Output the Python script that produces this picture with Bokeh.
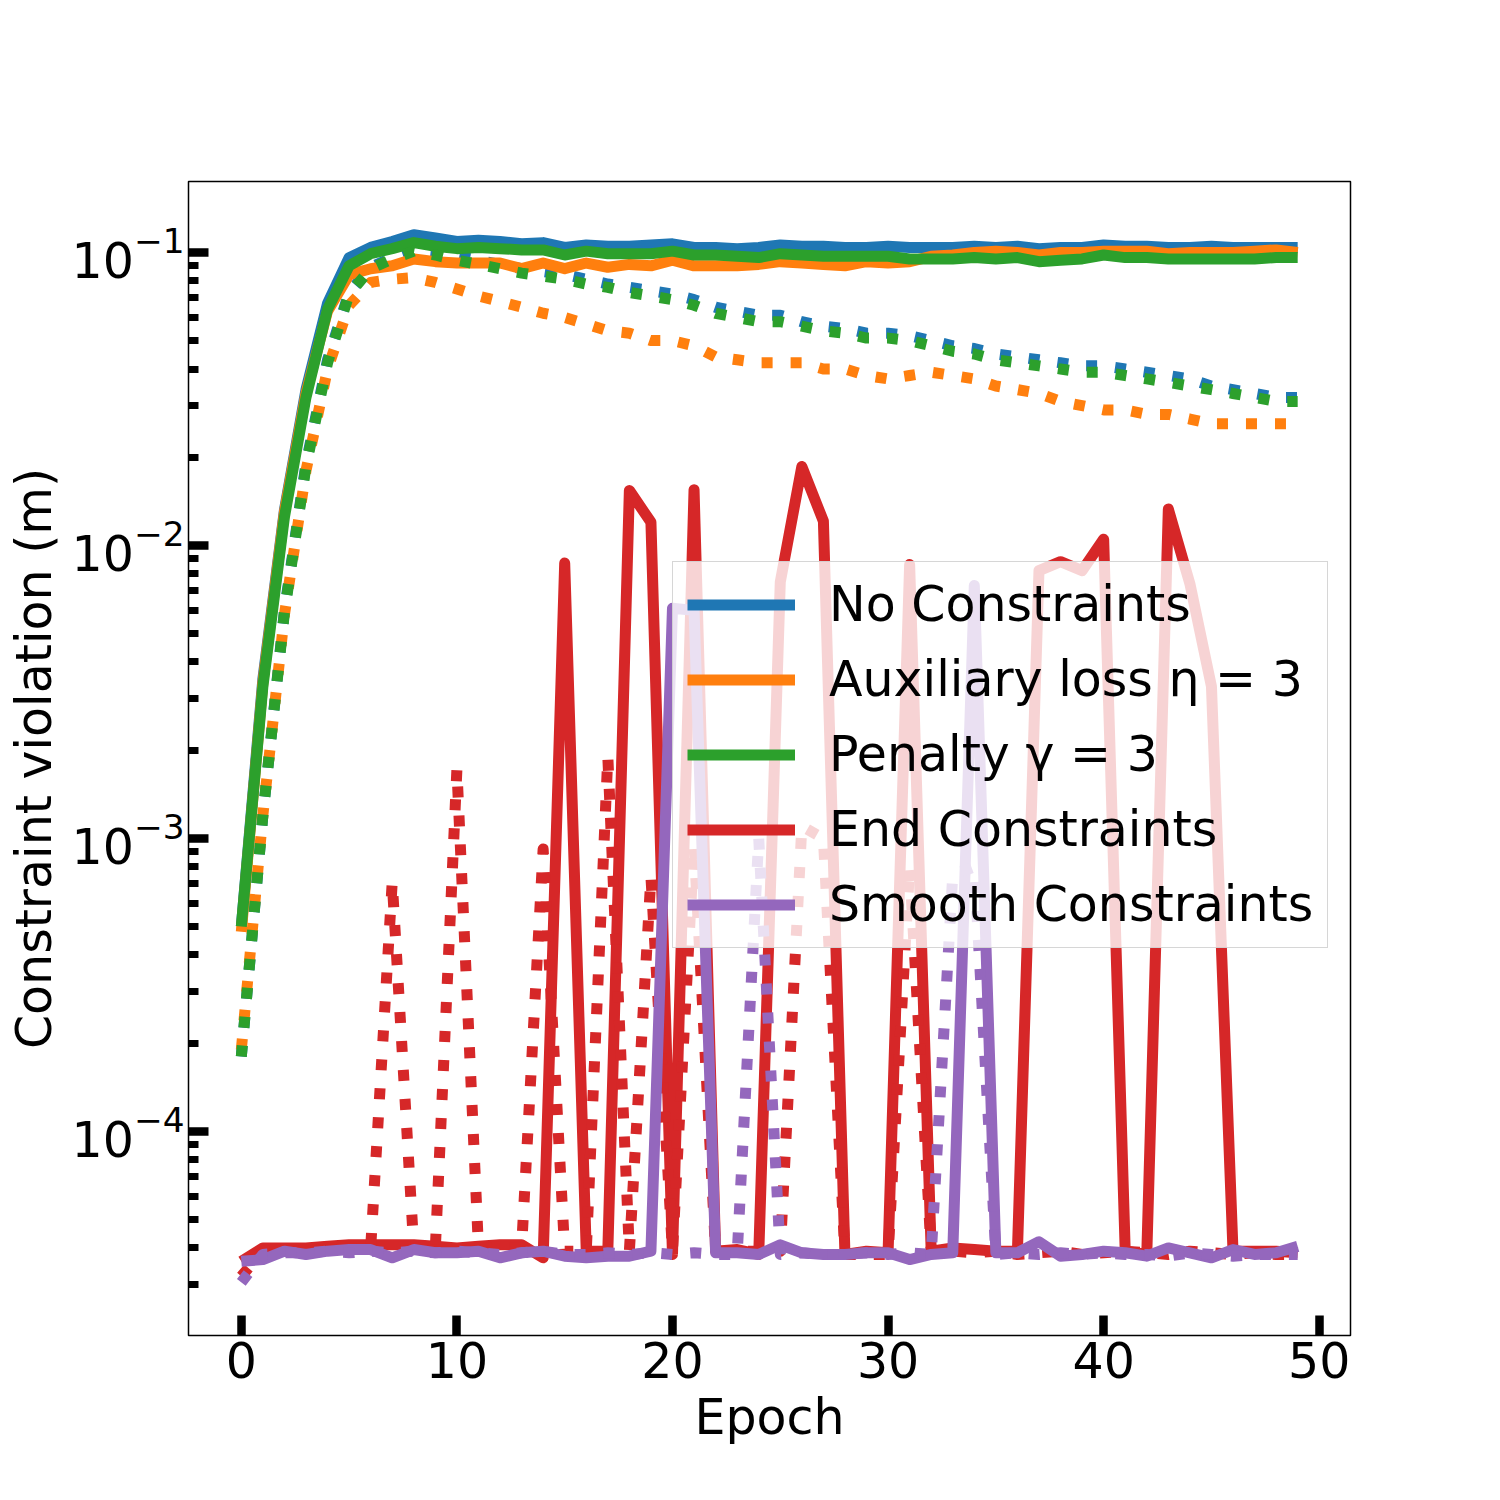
from bokeh.plotting import figure
from bokeh.embed import file_html
from bokeh.resources import INLINE
from bokeh.models import FixedTicker, Range1d, LogTicker

epochs = list(range(50))

no_constraints = [5.0e-4, 3.5e-3, 1.32e-2, 3.4e-2, 6.7e-2, 0.096, 0.104, 0.109, 0.115, 0.112,
                  0.109, 0.110, 0.109, 0.107, 0.108, 0.104, 0.106, 0.105, 0.105, 0.106,
                  0.107, 0.104, 0.104, 0.103, 0.104, 0.106, 0.105, 0.105, 0.104, 0.104,
                  0.105, 0.104, 0.104, 0.104, 0.105, 0.104, 0.105, 0.103, 0.104, 0.104,
                  0.106, 0.105, 0.105, 0.104, 0.104, 0.105, 0.104, 0.104, 0.104, 0.104]
no_constraints_val = [1.8e-4, 1.2e-3, 6.0e-3, 0.019, 0.043, 0.073, 0.089, 0.096, 0.102, 0.100,
                      0.097, 0.094, 0.091, 0.088, 0.086, 0.084, 0.081, 0.078, 0.076, 0.074,
                      0.072, 0.069, 0.065, 0.063, 0.061, 0.061, 0.058, 0.056, 0.055, 0.053,
                      0.053, 0.052, 0.050, 0.048, 0.047, 0.045, 0.044, 0.043, 0.042, 0.041,
                      0.041, 0.040, 0.039, 0.038, 0.037, 0.035, 0.034, 0.033, 0.032, 0.032]

auxiliary = [4.8e-4, 3.4e-3, 1.3e-2, 3.3e-2, 6.3e-2, 0.084, 0.088, 0.090, 0.095, 0.093,
             0.092, 0.092, 0.092, 0.088, 0.092, 0.088, 0.092, 0.089, 0.091, 0.090,
             0.094, 0.090, 0.090, 0.090, 0.091, 0.093, 0.092, 0.091, 0.090, 0.093,
             0.092, 0.093, 0.097, 0.098, 0.100, 0.101, 0.100, 0.098, 0.100, 0.100,
             0.101, 0.101, 0.101, 0.099, 0.100, 0.100, 0.100, 0.101, 0.102, 0.100]
auxiliary_val = [1.9e-4, 1.2e-3, 5.8e-3, 0.018, 0.040, 0.066, 0.079, 0.081, 0.082, 0.079,
                 0.075, 0.071, 0.068, 0.065, 0.062, 0.060, 0.057, 0.054, 0.053, 0.050,
                 0.050, 0.048, 0.044, 0.043, 0.042, 0.042, 0.042, 0.040, 0.040, 0.038,
                 0.037, 0.038, 0.039, 0.038, 0.037, 0.035, 0.034, 0.033, 0.031, 0.030,
                 0.029, 0.029, 0.028, 0.028, 0.027, 0.026, 0.026, 0.026, 0.026, 0.026]

penalty = [5.0e-4, 3.3e-3, 1.25e-2, 3.2e-2, 6.4e-2, 0.090, 0.099, 0.103, 0.108, 0.105,
           0.103, 0.104, 0.103, 0.102, 0.102, 0.098, 0.101, 0.099, 0.099, 0.099,
           0.101, 0.098, 0.098, 0.097, 0.096, 0.099, 0.098, 0.097, 0.097, 0.097,
           0.097, 0.095, 0.095, 0.095, 0.096, 0.095, 0.096, 0.093, 0.094, 0.095,
           0.098, 0.096, 0.096, 0.095, 0.095, 0.095, 0.095, 0.095, 0.096, 0.096]
penalty_val = [1.8e-4, 1.2e-3, 5.9e-3, 0.0186, 0.042, 0.072, 0.088, 0.095, 0.101, 0.098,
               0.094, 0.091, 0.088, 0.085, 0.083, 0.081, 0.078, 0.076, 0.073, 0.071,
               0.069, 0.066, 0.062, 0.060, 0.058, 0.058, 0.056, 0.054, 0.053, 0.051,
               0.051, 0.050, 0.048, 0.046, 0.045, 0.043, 0.042, 0.041, 0.040, 0.039,
               0.039, 0.038, 0.037, 0.036, 0.035, 0.034, 0.033, 0.032, 0.031, 0.031]

end_constraints = [3.6e-5, 4.0e-5, 4.0e-5, 4.0e-5, 4.05e-5, 4.1e-5, 4.1e-5, 4.1e-5, 4.1e-5, 4.05e-5,
                   4.0e-5, 4.05e-5, 4.1e-5, 4.1e-5, 3.7e-5, 8.7e-3, 3.9e-5, 3.9e-5, 0.0154, 0.012,
                   3.8e-5, 0.0155, 3.9e-5, 3.95e-5, 3.8e-5, 7.5e-3, 0.0186, 0.0121, 3.8e-5, 3.9e-5,
                   3.85e-5, 8.6e-3, 3.9e-5, 4.0e-5, 3.95e-5, 3.9e-5, 3.9e-5, 8.2e-3, 8.8e-3, 8.2e-3,
                   0.0105, 3.9e-5, 3.8e-5, 0.0133, 7.4e-3, 3.3e-3, 3.9e-5, 3.9e-5, 3.9e-5, 3.85e-5]
end_constraints_val = [3.2e-5, 3.9e-5, 3.9e-5, 3.9e-5, 3.95e-5, 4.0e-5, 4.0e-5, 7.1e-4, 4.0e-5, 4.0e-5,
                       1.72e-3, 4.0e-5, 4.0e-5, 4.0e-5, 9.2e-4, 3.9e-5, 3.9e-5, 1.9e-3, 3.9e-5, 7.4e-4,
                       3.9e-5, 9.5e-4, 3.9e-5, 3.9e-5, 3.9e-5, 3.9e-5, 1.1e-3, 1.0e-3, 3.8e-5, 3.8e-5,
                       3.8e-5, 8.0e-4, 3.9e-5, 3.9e-5, 3.85e-5, 3.9e-5, 3.8e-5, 3.85e-5, 3.9e-5, 3.8e-5,
                       3.85e-5, 3.9e-5, 3.85e-5, 3.8e-5, 3.9e-5, 3.85e-5, 3.8e-5, 3.85e-5, 3.8e-5, 3.8e-5]

smooth_constraints = [3.6e-5, 3.65e-5, 3.9e-5, 3.8e-5, 3.9e-5, 3.95e-5, 3.95e-5, 3.7e-5, 3.95e-5, 3.85e-5,
                      3.85e-5, 3.9e-5, 3.7e-5, 3.85e-5, 3.9e-5, 3.75e-5, 3.7e-5, 3.75e-5, 3.75e-5, 3.9e-5,
                      6.1e-3, 6.0e-3, 3.85e-5, 3.85e-5, 3.8e-5, 4.1e-5, 3.85e-5, 3.8e-5, 3.8e-5, 3.85e-5,
                      3.85e-5, 3.65e-5, 3.8e-5, 3.85e-5, 7.3e-3, 3.85e-5, 3.85e-5, 4.2e-5, 3.75e-5, 3.8e-5,
                      3.9e-5, 3.85e-5, 3.75e-5, 4.0e-5, 3.85e-5, 3.7e-5, 3.95e-5, 3.8e-5, 3.85e-5, 4.05e-5]
smooth_constraints_val = [3.05e-5, 3.8e-5, 3.85e-5, 3.85e-5, 3.9e-5, 3.85e-5, 3.9e-5, 3.85e-5, 3.9e-5, 3.85e-5,
                          3.9e-5, 3.85e-5, 3.8e-5, 3.85e-5, 3.9e-5, 3.8e-5, 3.8e-5, 3.85e-5, 3.8e-5, 3.85e-5,
                          3.8e-5, 3.85e-5, 3.8e-5, 3.8e-5, 1.0e-3, 3.8e-5, 3.85e-5, 3.8e-5, 3.8e-5, 3.85e-5,
                          3.8e-5, 3.85e-5, 3.8e-5, 7.5e-4, 8.0e-4, 3.8e-5, 3.85e-5, 3.8e-5, 3.85e-5, 3.8e-5,
                          3.85e-5, 3.8e-5, 3.8e-5, 3.75e-5, 3.85e-5, 3.8e-5, 3.75e-5, 3.8e-5, 3.8e-5, 3.8e-5]

labels = ["No Constraints", "Auxiliary loss \u03b7 = 3", "Penalty \u03b3 = 3",
          "End Constraints", "Smooth Constraints"]
colors = ["#1f77b4", "#ff7f0e", "#2ca02c", "#d62728", "#9467bd"]
x_ticks = [0, 10, 20, 30, 40, 50]

series = [(no_constraints, no_constraints_val), (auxiliary, auxiliary_val),
          (penalty, penalty_val), (end_constraints, end_constraints_val),
          (smooth_constraints, smooth_constraints_val)]

FONT = "DejaVu Sans"
FS = "49px"

p = figure(width=1484, height=1484, y_axis_type="log",
           x_range=Range1d(-2.45, 51.45), y_range=Range1d(2.01e-5, 0.1746),
           output_backend="svg", toolbar_location=None,
           min_border_left=188, min_border_right=134, min_border_top=181, min_border_bottom=149)

p.xgrid.visible = False
p.ygrid.visible = False
p.background_fill_color = "white"
p.border_fill_color = "white"
p.outline_line_color = "black"
p.outline_line_width = 1.5

for (train, val), lab, col in zip(series, labels, colors):
    p.line(epochs, train, line_color=col, line_width=11, line_join="round", legend_label=lab)
    p.line(epochs, val, line_color=col, line_width=11, line_dash="11 18", line_join="round")

for ax in (p.xaxis[0], p.yaxis[0]):
    ax.axis_line_color = None
    ax.major_tick_in = 20
    ax.major_tick_out = 0
    ax.major_tick_line_width = 8.5
    ax.major_tick_line_color = "black"
    ax.minor_tick_in = 10
    ax.minor_tick_out = 0
    ax.minor_tick_line_width = 7
    ax.minor_tick_line_color = "black"
    ax.major_label_text_font = FONT
    ax.major_label_text_font_size = FS
    ax.major_label_text_color = "black"
    ax.axis_label_text_font = FONT
    ax.axis_label_text_font_size = FS
    ax.axis_label_text_font_style = "normal"
    ax.axis_label_text_color = "black"

p.xaxis.ticker = FixedTicker(ticks=x_ticks)
p.xaxis.minor_tick_line_color = None
p.xaxis.axis_label = "Epoch"
p.xaxis.major_label_standoff = 6
p.xaxis.axis_label_standoff = 8
p.yaxis.axis_label = "Constraint violation (m)"
p.yaxis.major_label_standoff = 4
p.yaxis.axis_label_standoff = 6
p.yaxis.ticker = LogTicker(num_minor_ticks=10)

lg = p.legend[0]
lg.location = (484, 387)
lg.label_text_font = FONT
lg.label_text_font_size = FS
lg.label_text_color = "black"
lg.glyph_width = 108
lg.glyph_height = 55
lg.label_height = 55
lg.label_standoff = 34
lg.spacing = 18
lg.padding = 14
lg.margin = 0
lg.background_fill_color = "white"
lg.background_fill_alpha = 0.8
lg.border_line_color = "#cccccc"
lg.border_line_alpha = 0.8
lg.border_line_width = 1.5

open("out.html", "w").write(file_html(p, INLINE))
